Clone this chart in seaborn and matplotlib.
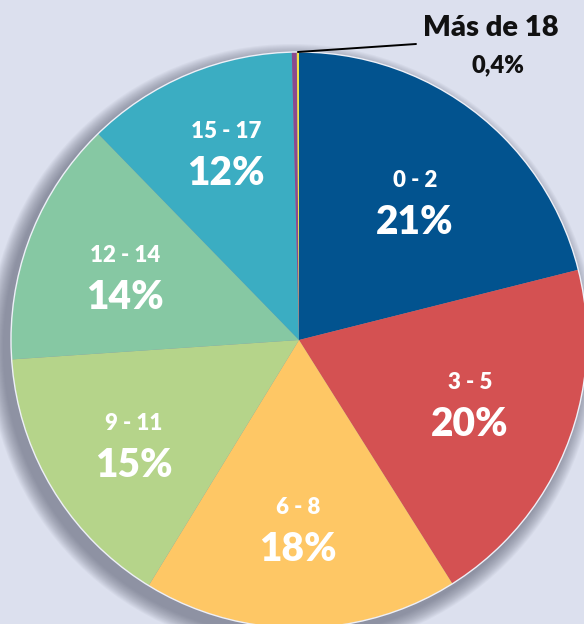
import numpy as np
import seaborn as sns
import matplotlib.pyplot as plt
from matplotlib.patches import Circle

# ---------------------- Data ------------------------
categories = ["0 - 2", "3 - 5", "6 - 8", "9 - 11", "12 - 14", "15 - 17", "Sin dato", "Más de 18"]
shares = [21.1, 20.0, 17.7, 15.2, 13.8, 11.9, 0.28, 0.12]
pct_labels = ["21%", "20%", "18%", "15%", "14%", "12%", "", "0,4%"]

colors = ["#02538f", "#d45152", "#fec765", "#b5d48a", "#86c8a3", "#3badc2", "#8b4a8e", "#f2e14c"]
BG = "#dce0ee"

# hand placement tweaks for the in-slice labels (pixels)
nudges = [(0, -10), (-4, 7), (-2, 0), (-4, -7), (2, -4), (0, 14)]

# ---------------------- Style ------------------------
sns.set_theme(style="white")
plt.rcParams["font.family"] = ["Lato", "DejaVu Sans"]

fig = plt.figure(figsize=(5.84, 6.24), dpi=100, facecolor=BG)
ax = fig.add_axes([0, 0, 1, 1])
ax.set_facecolor(BG)

cx, cy, R = 299, 284, 288

# soft shadow toward lower left
for k in range(16, 0, -1):
    ax.add_patch(Circle((cx - 7, cy - 8), R + k, color="#5a5f72",
                        alpha=0.05, lw=0, zorder=0))

wedges, _ = ax.pie(shares, colors=colors, startangle=90, counterclock=False,
                   radius=R, center=(cx, cy), frame=True,
                   wedgeprops=dict(linewidth=0, zorder=2))
ax.add_patch(Circle((cx, cy), R, fill=False, ec="#eef0f8", lw=1, zorder=3))

# ---------------------- Labels ------------------------
for w, cat, pct, (dx, dy) in zip(wedges[:6], categories[:6], pct_labels[:6], nudges):
    ang = np.deg2rad((w.theta1 + w.theta2) / 2)
    x = cx + 0.655 * R * np.cos(ang) + dx
    y = cy + 0.655 * R * np.sin(ang) + dy
    ax.text(x, y + 21, cat, ha="center", va="center", color="white",
            fontsize=16, fontweight="heavy", zorder=4)
    ax.text(x, y - 21, pct, ha="center", va="center", color="white",
            fontsize=28, fontweight="heavy", zorder=4)

# leader line for the tiny slice
w = wedges[-1]
ang = np.deg2rad((w.theta1 + w.theta2) / 2)
ax.annotate("", xy=(cx + R * np.cos(ang), cy + R * np.sin(ang)), xytext=(416, 580),
            arrowprops=dict(arrowstyle="-", color="black", lw=1.4,
                            shrinkA=0, shrinkB=0), zorder=4)
ax.text(491, 596, categories[-1], ha="center", va="center", color="#111111",
        fontsize=21, fontweight="heavy")
ax.text(498, 559, pct_labels[-1], ha="center", va="center", color="#111111",
        fontsize=17, fontweight="heavy")

ax.set_xlim(0, 584)
ax.set_ylim(0, 624)
ax.set_aspect("equal")
ax.axis("off")

fig.savefig("out.png", dpi=100, facecolor=BG)
